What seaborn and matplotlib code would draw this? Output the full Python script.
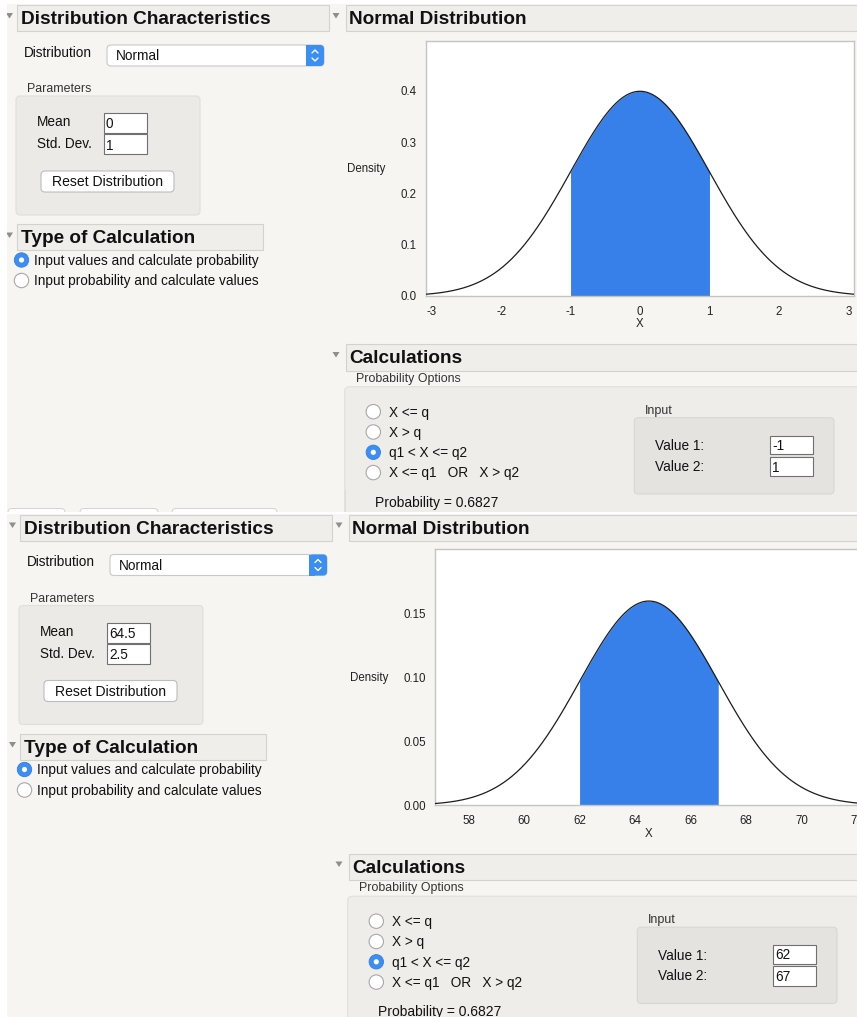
import numpy as np
import matplotlib
matplotlib.use("Agg")
import matplotlib.pyplot as plt
import seaborn as sns
import pandas as pd
from matplotlib.patches import FancyBboxPatch, Rectangle, Circle, Polygon
from matplotlib.ticker import MultipleLocator

# ---------------- data ----------------
distribution = ["Normal", "Normal"]
means = [0.0, 64.5]
std_devs = [1.0, 2.5]
mean_labels = ["0", "64.5"]
sd_labels = ["1", "2.5"]
value1 = [-1.0, 62.0]
value2 = [1.0, 67.0]
v1_labels = ["-1", "62"]
v2_labels = ["1", "67"]
probability = ["0.6827", "0.6827"]
x_major = [[-3, -2, -1, 0, 1, 2, 3], [58, 60, 62, 64, 66, 68, 70, 72]]
x_tick_labels = [["-3", "-2", "-1", "0", "1", "2", "3"],
                 ["58", "60", "62", "64", "66", "68", "70", "72"]]
y_major = [[0.0, 0.1, 0.2, 0.3, 0.4], [0.00, 0.05, 0.10, 0.15]]
y_tick_labels = [["0.0", "0.1", "0.2", "0.3", "0.4"], ["0.00", "0.05", "0.10", "0.15"]]
y_top = [0.4975, 0.2]
x_span_sd = [3.085, 3.085]
prob_options = ["X <= q", "X > q", "q1 < X <= q2", "X <= q1   OR   X > q2"]
prob_selected = [False, False, True, False]
calc_types = ["Input values and calculate probability",
              "Input probability and calculate values"]
calc_selected = [True, False]

# ---------------- style ----------------
BG = "#f6f5f2"
HDR_FC, HDR_EC = "#efeeeb", "#d3d2cf"
PBOX_FC, PBOX_EC = "#ebeae7", "#e0dfdc"
OBOX_FC, OBOX_EC = "#eeedea", "#e1e0dd"
IBOX_FC, IBOX_EC = "#e4e3e0", "#d8d7d4"
BLUE = "#3780e9"
TXT = "#111111"

sns.set_style("white")
plt.rcParams["font.family"] = ["Liberation Sans", "DejaVu Sans"]

W, H = 857, 1017
fig = plt.figure(figsize=(W / 100, H / 100), dpi=100)
fig.patch.set_facecolor(BG)
ui = fig.add_axes([0, 0, 1, 1], zorder=0)
ui.set_xlim(0, W)
ui.set_ylim(H, 0)
ui.axis("off")


def rbox(x0, y0, x1, y1, fc, ec, r=0.0, lw=0.8, z=1):
    if r > 0:
        p = FancyBboxPatch((x0, y0), x1 - x0, y1 - y0,
                           boxstyle=f"round,pad=0,rounding_size={r}",
                           fc=fc, ec=ec, lw=lw, zorder=z)
    else:
        p = Rectangle((x0, y0), x1 - x0, y1 - y0, fc=fc, ec=ec, lw=lw, zorder=z)
    ui.add_patch(p)


def txt(x, y, s, size=9.8, bold=False, ha="left", color=TXT, z=6):
    ui.text(x, y, s, fontsize=size, fontweight="bold" if bold else "normal",
            ha=ha, va="baseline", color=color, zorder=z)


def tri(cx, cy):
    ui.add_patch(Polygon([[cx - 3.5, cy - 2.5], [cx + 3.5, cy - 2.5], [cx, cy + 3]],
                         closed=True, fc="#8e8e8e", ec="none", zorder=6))


def radio(cx, cy, selected):
    if selected:
        ui.add_patch(Circle((cx, cy), 7.2, fc="#3d8ef3", ec="#2f7fe6", lw=0.6, zorder=6))
        ui.add_patch(Circle((cx, cy), 2.6, fc="white", ec="none", zorder=7))
    else:
        ui.add_patch(Circle((cx, cy), 7.2, fc="white", ec="#a8a8a8", lw=0.8, zorder=6))


def field(x0, y0, x1, y1, s):
    rbox(x0, y0, x1, y1, "white", "#707070", lw=0.8, z=5)
    txt(x0 + 2, y1 - 4.5, s)


def panel(i, dx, dy):
    # ---- left side ----
    rbox(17 + dx, 5 + dy, 329 + dx, 31 + dy, HDR_FC, HDR_EC, z=3)
    tri(9.5 + dx, 15.5 + dy)
    txt(21 + dx, 24 + dy, "Distribution Characteristics", 13.7, bold=True)
    txt(24 + dx, 57 + dy, "Distribution")
    rbox(107 + dx, 45 + dy, 324 + dx, 66 + dy, "white", "#c9c9c9", r=4, z=3)
    rbox(306 + dx, 45 + dy, 324 + dx, 66 + dy, "#3b8ef4", "none", r=4, z=4)
    rbox(306 + dx, 45 + dy, 312 + dx, 66 + dy, "#3b8ef4", "none", z=4)
    cx = 315 + dx
    ui.plot([cx - 3, cx, cx + 3], [53 + dy, 50 + dy, 53 + dy], color="white", lw=1.0, zorder=5)
    ui.plot([cx - 3, cx, cx + 3], [58 + dy, 61 + dy, 58 + dy], color="white", lw=1.0, zorder=5)
    txt(116 + dx, 60 + dy, distribution[i])
    txt(27 + dx, 92.5 + dy, "Parameters", 8.9, color="#333333")
    rbox(16 + dx, 96 + dy, 200 + dx, 215 + dy, PBOX_FC, PBOX_EC, r=4, z=2)
    txt(37 + dx, 126.5 + dy, "Mean")
    field(104 + dx, 113 + dy, 147 + dx, 133 + dy, mean_labels[i])
    txt(37 + dx, 148 + dy, "Std. Dev.")
    field(104 + dx, 134 + dy, 147 + dx, 154 + dy, sd_labels[i])
    rbox(41 + dx, 171 + dy, 174 + dx, 192 + dy, "white", "#bdbdbd", r=4, z=3)
    txt(107.5 + dx, 186.3 + dy, "Reset Distribution", 10.1, ha="center")
    rbox(17 + dx, 224 + dy, 263 + dx, 250 + dy, HDR_FC, HDR_EC, z=3)
    tri(9.5 + dx, 235 + dy)
    txt(21 + dx, 243.3 + dy, "Type of Calculation", 13.7, bold=True)
    for k, (lab, sel) in enumerate(zip(calc_types, calc_selected)):
        cy = 260 + 20.5 * k + dy
        radio(21.5 + dx, cy, sel)
        txt(34 + dx, cy + 4.8, lab)

    # ---- right side ----
    rbox(346 + dx, 5 + dy, 870, 31 + dy, HDR_FC, HDR_EC, z=3)
    tri(336 + dx, 15.5 + dy)
    txt(349 + dx, 24 + dy, "Normal Distribution", 13.7, bold=True)
    rbox(346 + dx, 344 + dy, 870, 370.7 + dy, HDR_FC, HDR_EC, z=3)
    tri(336 + dx, 354.5 + dy)
    txt(349 + dx, 363.3 + dy, "Calculations", 13.7, bold=True)
    txt(356 + dx, 382 + dy, "Probability Options", 8.9, color="#333333")
    rbox(344.7 + dx, 386.7 + dy, 880, 530 + dy, OBOX_FC, OBOX_EC, r=5, z=2)
    for k, (lab, sel) in enumerate(zip(prob_options, prob_selected)):
        cy = 411.7 + 20.3 * k + dy
        radio(373.3 + dx, cy, sel)
        txt(389 + dx, cy + 4.8, lab)
    txt(375 + dx, 506.5 + dy, "Probability = " + probability[i], 10.0)
    txt(645 + dx, 414 + dy, "Input", 9.0, color="#333333")
    rbox(634.3 + dx, 417.7 + dy, 834 + dx, 494 + dy, IBOX_FC, IBOX_EC, r=4, z=3)
    txt(655.3 + dx, 450 + dy, "Value 1:")
    txt(655.3 + dx, 470.7 + dy, "Value 2:")
    field(770 + dx, 435.7 + dy, 813.3 + dx, 454.3 + dy, v1_labels[i])
    field(770 + dx, 456.7 + dy, 813.3 + dx, 476 + dy, v2_labels[i])


panel(0, 0, 0)
# remnants of the buttons of the first screen, then separator
for x0, x1 in [(8, 65), (80, 158), (172, 277)]:
    rbox(x0, 508.5, x1, 520, "white", "#d2d2d2", r=4, lw=0.7, z=8)
ui.plot([345, 345], [490, 512], color="#dedede", lw=0.8, zorder=8)
rbox(0, 514, W, H, BG, "none", lw=0, z=9)
rbox(0, 511.5, W, 514, "white", "none", lw=0, z=9)


# second screen is drawn on top of its own background
def panel_on_top(i, dx, dy):
    # temporarily raise zorder by drawing on an extra overlay axes
    pass


ui2 = fig.add_axes([0, 0, 1, 1], zorder=1)
ui2.set_xlim(0, W)
ui2.set_ylim(H, 0)
ui2.axis("off")
ui2.patch.set_alpha(0)
_ui = ui
ui = ui2
panel(1, 3.0, 509.5)
ui = _ui

# white margins
rbox(0, 0, 7.5, H, "white", "none", lw=0, z=10)
rbox(0, 0, W, 4, "white", "none", lw=0, z=10)

# ---------------- plots ----------------
plot_boxes = [(425.7, 40.7, 854.3, 296.0), (435.0, 549.3, 862.8, 805.3)]
density_label_x = [347, 350]
y_minor = [0.05, 0.025]
x_minor = [None, 1.0]

for i, (l, t, r, b) in enumerate(plot_boxes):
    ax = fig.add_axes([l / W, 1 - b / H, (r - l) / W, (b - t) / H], zorder=5)
    ax.set_facecolor("white")
    mu, sd = means[i], std_devs[i]
    xlo, xhi = mu - x_span_sd[i] * sd, mu + x_span_sd[i] * sd
    xs = np.linspace(xlo, xhi, 800)
    dens = np.exp(-0.5 * ((xs - mu) / sd) ** 2) / (sd * np.sqrt(2 * np.pi))
    df = pd.DataFrame({"X": xs, "Density": dens})
    xf = np.linspace(value1[i], value2[i], 400)
    yf = np.exp(-0.5 * ((xf - mu) / sd) ** 2) / (sd * np.sqrt(2 * np.pi))
    ax.fill_between(xf, 0, yf, color=BLUE, lw=0, zorder=2)
    sns.lineplot(data=df, x="X", y="Density", ax=ax, color="#1c1c1c", lw=0.9, zorder=3)
    ax.set_xlim(xlo, xhi)
    ax.set_ylim(0, y_top[i])
    ax.set_xticks(x_major[i])
    ax.set_xticklabels(x_tick_labels[i])
    ax.set_yticks(y_major[i])
    ax.set_yticklabels(y_tick_labels[i])
    ax.yaxis.set_minor_locator(MultipleLocator(y_minor[i]))
    if x_minor[i]:
        ax.xaxis.set_minor_locator(MultipleLocator(x_minor[i]))
    ax.tick_params(axis="both", which="major", direction="out", length=4.0, width=0.8,
                   color="#a5a5a5", labelsize=8.3, labelcolor="#222222")
    ax.tick_params(axis="x", which="major", pad=3.0)
    ax.tick_params(axis="y", which="major", pad=2.6)
    ax.tick_params(axis="both", which="minor", direction="out", length=2.3, width=0.8,
                   color="#a5a5a5")
    for s in ax.spines.values():
        s.set_visible(True)
        s.set_color("#c4c4c4")
        s.set_linewidth(1.0)
    ax.set_xlabel("X", fontsize=8.3, color="#222222", labelpad=0.5)
    ax.set_ylabel("Density", fontsize=8.3, color="#222222", rotation=0, ha="left", va="center")
    ax.yaxis.set_label_coords((density_label_x[i] - l) / (r - l), 0.497)

fig.savefig("out.png", dpi=100, facecolor=BG)
